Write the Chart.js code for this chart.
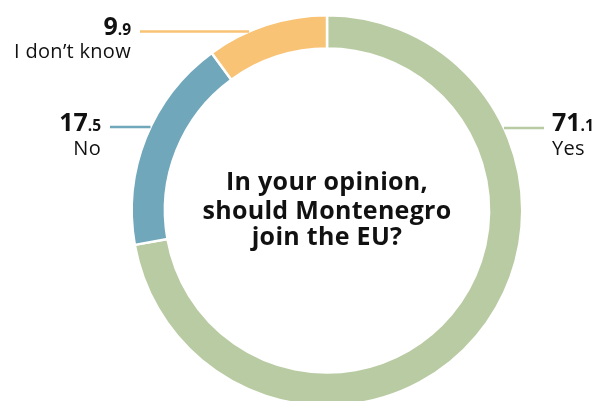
<!DOCTYPE html>
<html>
<head>
<meta charset="utf-8">
<script src="https://cdn.jsdelivr.net/npm/chart.js@4/dist/chart.umd.min.js"></script>
<style>
  html, body { margin: 0; padding: 0; background: #fff; overflow: hidden; }
  #wrap { position: relative; width: 592px; height: 420px; }
</style>
</head>
<body>
<div id="wrap"><canvas id="donut"></canvas></div>
<script>
// ── data ──
const answers = ['Yes', 'No', 'I don\u2019t know'];
const shares = [71.1, 17.5, 9.9];
const sliceColors = ['#b9cba3', '#70a7bb', '#f9c375'];
const questionLines = ['In your opinion,', 'should Montenegro', 'join the EU?'];

// ── label layout: leader y, leader far end, text anchor x, baselines ──
const labelLayout = [
    { lineY: 128, lineEnd: 544, textX: 552, numBase: 131, nameBase: 155, side: 'right' },
    { lineY: 127, lineEnd: 110, textX: 101, numBase: 131, nameBase: 155, side: 'left' },
    { lineY: 31.5, lineEnd: 140, textX: 131, numBase: 35, nameBase: 58, side: 'left' },
];

const FONT = '"Open Sans", sans-serif';

const calloutPlugin = {
    id: 'callouts',
    afterDatasetsDraw(chart) {
        const ctx = chart.ctx;
        const arcs = chart.getDatasetMeta(0).data;
        if (!arcs.length) return;
        const cx = arcs[0].x, cy = arcs[0].y, r = arcs[0].outerRadius;

        ctx.save();
        ctx.textBaseline = 'alphabetic';
        arcs.forEach((arc, i) => {
            const lay = labelLayout[i];
            const dy = lay.lineY - cy;
            const dx = Math.sqrt(Math.max(r * r - dy * dy, 0));
            const edgeX = lay.side === 'right' ? cx + dx : cx - dx;

            // leader line
            ctx.strokeStyle = sliceColors[i];
            ctx.lineWidth = 2.5;
            ctx.beginPath();
            ctx.moveTo(edgeX, lay.lineY);
            ctx.lineTo(lay.lineEnd, lay.lineY);
            ctx.stroke();

            // value: big integer part + small decimal part
            const [whole, dec] = shares[i].toFixed(1).split('.');
            const bigFont = 'bold 25px ' + FONT;
            const smallFont = 'bold 15.5px ' + FONT;
            ctx.fillStyle = '#111';
            ctx.letterSpacing = '0px';
            ctx.font = bigFont;
            const wBig = ctx.measureText(whole).width;
            ctx.font = smallFont;
            const wSmall = ctx.measureText('.' + dec).width;
            const x0 = lay.side === 'right' ? lay.textX : lay.textX - wBig - wSmall;
            ctx.textAlign = 'left';
            ctx.font = bigFont;
            ctx.fillText(whole, x0, lay.numBase);
            ctx.font = smallFont;
            ctx.fillText('.' + dec, x0 + wBig, lay.numBase);

            // answer name
            ctx.font = '20px ' + FONT;
            ctx.letterSpacing = '0.3px';
            ctx.textAlign = lay.side === 'right' ? 'left' : 'right';
            ctx.fillText(answers[i], lay.textX, lay.nameBase);
        });

        // question in the middle
        ctx.font = 'bold 25px ' + FONT;
        ctx.letterSpacing = '0.3px';
        ctx.fillStyle = '#111';
        ctx.textAlign = 'center';
        const baselines = [-21, 8, 34];
        questionLines.forEach((line, k) => {
            ctx.fillText(line, cx, cy + baselines[k]);
        });
        ctx.restore();
    }
};

new Chart(document.getElementById('donut'), {
    type: 'doughnut',
    data: {
        labels: answers,
        datasets: [{
            data: shares,
            backgroundColor: sliceColors,
            borderColor: '#ffffff',
            borderWidth: 2.5,
            hoverOffset: 0,
        }]
    },
    options: {
        responsive: true,
        maintainAspectRatio: false,
        animation: false,
        cutout: '83%',
        rotation: 0,
        layout: { padding: { top: 14, bottom: 13, left: 62, right: 0 } },
        plugins: {
            legend: { display: false },
            tooltip: { enabled: false },
        },
    },
    plugins: [calloutPlugin],
});
</script>
</body>
</html>
